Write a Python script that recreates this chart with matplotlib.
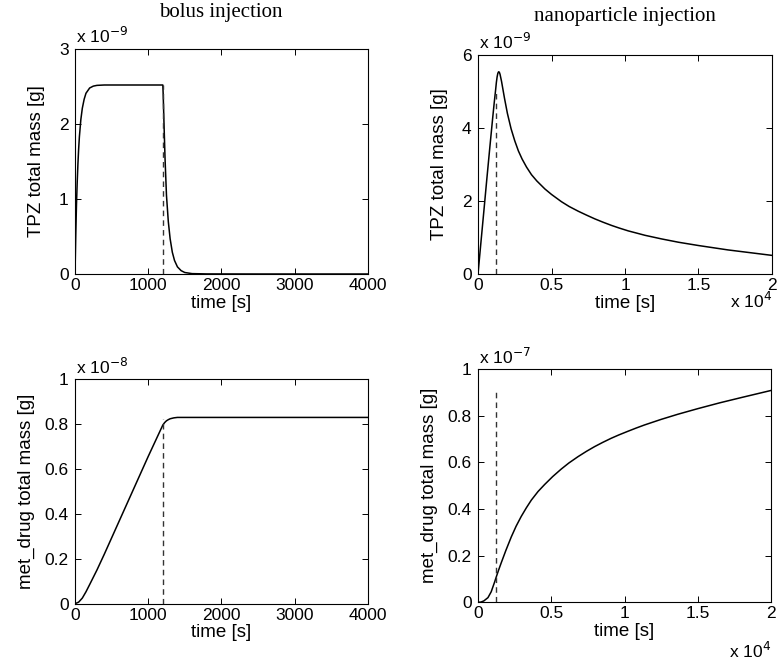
import matplotlib
matplotlib.use("Agg")
import matplotlib.pyplot as plt

# ---- data ----
# bolus injection, TPZ total mass (x 1e-9 g)
bolus_tpz_t = [0, 10, 20, 30, 40, 50, 60, 80, 100, 125, 150, 200, 250, 300, 400, 500, 800, 1100, 1200,
               1205, 1215, 1230, 1250, 1275, 1300, 1330, 1360, 1400, 1450, 1500, 1600, 1800, 2500, 4000]
bolus_tpz_v = [0, 0.50, 0.92, 1.22, 1.47, 1.67, 1.83, 2.06, 2.21, 2.33, 2.41, 2.48, 2.505, 2.515, 2.52, 2.52,
               2.52, 2.52, 2.52, 2.40, 2.05, 1.55, 1.05, 0.70, 0.47, 0.29, 0.18, 0.095, 0.045, 0.02, 0.005, 0.001, 0, 0]
bolus_end = 1200
bolus_tpz_dash_top = 2.52

# nanoparticle injection, TPZ total mass (x 1e-9 g)
nano_tpz_t = [0, 200, 400, 600, 800, 1000, 1100, 1200, 1250, 1300, 1350, 1400, 1450, 1500, 1600, 1700,
              1800, 2000, 2250, 2500, 2750, 3000, 3300, 3640, 4000, 4550, 5000, 5680, 6200, 6820, 7400,
              7950, 8500, 9090, 9600, 10230, 10800, 11360, 12500, 13640, 15000, 16000, 17000, 18000,
              19000, 20000]
nano_tpz_v = [0, 0.87, 1.73, 2.6, 3.45, 4.28, 4.68, 5.05, 5.25, 5.4, 5.5, 5.54, 5.53, 5.47, 5.28, 5.05,
              4.82, 4.4, 3.98, 3.65, 3.37, 3.15, 2.93, 2.72, 2.55, 2.33, 2.18, 1.98, 1.85, 1.72, 1.61,
              1.51, 1.42, 1.33, 1.26, 1.18, 1.12, 1.06, 0.96, 0.87, 0.78, 0.72, 0.66, 0.61, 0.56, 0.51]
nano_end = 1200
nano_tpz_dash_top = 5.05

# bolus injection, met_drug total mass (x 1e-8 g)
bolus_met_t = [0, 50, 100, 150, 200, 300, 400, 600, 800, 1000, 1100, 1200, 1225, 1250, 1275, 1300, 1350,
               1400, 1500, 2000, 4000]
bolus_met_v = [0, 0.007, 0.025, 0.053, 0.085, 0.15, 0.22, 0.365, 0.51, 0.655, 0.725, 0.795, 0.806, 0.814,
               0.819, 0.823, 0.827, 0.829, 0.829, 0.829, 0.829]
bolus_met_dash_top = 0.82

# nanoparticle injection, met_drug total mass (x 1e-7 g)
nano_met_t = [0, 200, 400, 680, 900, 1140, 1200, 1400, 1590, 1900, 2270, 2600, 2950, 3300, 3640, 4100,
              4550, 5100, 5680, 6200, 6820, 7400, 7950, 8500, 9090, 9600, 10230, 10800, 11360, 12500,
              13640, 15000, 16500, 18000, 20000]
nano_met_v = [0, 0.001, 0.006, 0.02, 0.045, 0.088, 0.1, 0.137, 0.17, 0.222, 0.28, 0.326, 0.368, 0.405,
              0.438, 0.475, 0.505, 0.539, 0.571, 0.597, 0.624, 0.647, 0.667, 0.685, 0.703, 0.717, 0.733,
              0.747, 0.76, 0.784, 0.806, 0.83, 0.855, 0.878, 0.908]
nano_met_dash_top = 0.91

W, H = 782, 669
fig = plt.figure(figsize=(W / 100, H / 100), dpi=100)
plt.rcParams['font.family'] = ['Liberation Sans', 'DejaVu Sans']

def box(l, r, t, b):
    return [l / W, (H - b) / H, (r - l) / W, (b - t) / H]

axes_px = {
    'tl': (75, 367.7, 49, 274),
    'tr': (478, 772, 55, 274),
    'bl': (75, 367.7, 379, 603.7),
    'br': (478, 771, 369, 602.3),
}

def style(ax):
    ax.tick_params(direction='in', top=True, right=True, length=4, width=0.7,
                   labelsize=12.5)
    ax.tick_params(axis='x', pad=3)
    ax.tick_params(axis='y', pad=4.5)
    for s in ax.spines.values():
        s.set_linewidth(0.8)

LW = 1.1
dash_kw = dict(color='#333333', lw=1.0, dashes=(4, 3))
LABEL_FS = 13.5

# top-left
ax = fig.add_axes(box(*axes_px['tl']))
ax.plot(bolus_tpz_t, bolus_tpz_v, color='k', lw=LW)
ax.plot([bolus_end, bolus_end], [0, bolus_tpz_dash_top], **dash_kw)
ax.set_xlim(0, 4000); ax.set_ylim(0, 3)
ax.set_xticks([0, 1000, 2000, 3000, 4000]); ax.set_yticks([0, 1, 2, 3])
ax.set_xticklabels(['0', '1000', '2000', '3000', '4000'])
ax.set_yticklabels(['0', '1', '2', '3'])
style(ax)
ax.set_xlabel('time [s]', fontsize=LABEL_FS, labelpad=1)
ax.set_ylabel('TPZ total mass [g]', fontsize=LABEL_FS, labelpad=10)
ax.text(0.005, 1.015, r'x 10$^{-9}$', transform=ax.transAxes, fontsize=12.5, ha='left', va='bottom')

# top-right
ax = fig.add_axes(box(*axes_px['tr']))
ax.plot(nano_tpz_t, nano_tpz_v, color='k', lw=LW)
ax.plot([nano_end, nano_end], [0, nano_tpz_dash_top], **dash_kw)
ax.set_xlim(0, 20000); ax.set_ylim(0, 6)
ax.set_xticks([0, 5000, 10000, 15000, 20000]); ax.set_yticks([0, 2, 4, 6])
ax.set_xticklabels(['0', '0.5', '1', '1.5', '2'])
ax.set_yticklabels(['0', '2', '4', '6'])
style(ax)
ax.set_xlabel('time [s]', fontsize=LABEL_FS, labelpad=1)
ax.set_ylabel('TPZ total mass [g]', fontsize=LABEL_FS, labelpad=10)
ax.text(0.005, 1.015, r'x 10$^{-9}$', transform=ax.transAxes, fontsize=12.5, ha='left', va='bottom')
ax.text(1.0, -0.075, r'x 10$^{4}$', transform=ax.transAxes, fontsize=12.5, ha='right', va='top')

# bottom-left
ax = fig.add_axes(box(*axes_px['bl']))
ax.plot(bolus_met_t, bolus_met_v, color='k', lw=LW)
ax.plot([bolus_end, bolus_end], [0, bolus_met_dash_top], **dash_kw)
ax.set_xlim(0, 4000); ax.set_ylim(0, 1)
ax.set_xticks([0, 1000, 2000, 3000, 4000]); ax.set_yticks([0, 0.2, 0.4, 0.6, 0.8, 1])
ax.set_xticklabels(['0', '1000', '2000', '3000', '4000'])
ax.set_yticklabels(['0', '0.2', '0.4', '0.6', '0.8', '1'])
style(ax)
ax.set_xlabel('time [s]', fontsize=LABEL_FS, labelpad=1)
ax.set_ylabel('met_drug total mass [g]', fontsize=LABEL_FS, labelpad=7)
ax.text(0.005, 1.01, r'x 10$^{-8}$', transform=ax.transAxes, fontsize=12.5, ha='left', va='bottom')

# bottom-right
ax = fig.add_axes(box(*axes_px['br']))
ax.plot(nano_met_t, nano_met_v, color='k', lw=LW)
ax.plot([nano_end, nano_end], [0, nano_met_dash_top], **dash_kw)
ax.set_xlim(0, 20000); ax.set_ylim(0, 1)
ax.set_xticks([0, 5000, 10000, 15000, 20000]); ax.set_yticks([0, 0.2, 0.4, 0.6, 0.8, 1])
ax.set_xticklabels(['0', '0.5', '1', '1.5', '2'])
ax.set_yticklabels(['0', '0.2', '0.4', '0.6', '0.8', '1'])
style(ax)
ax.set_xlabel('time [s]', fontsize=LABEL_FS, labelpad=1)
ax.set_ylabel('met_drug total mass [g]', fontsize=LABEL_FS, labelpad=7)
ax.text(0.005, 1.01, r'x 10$^{-7}$', transform=ax.transAxes, fontsize=12.5, ha='left', va='bottom')
ax.text(1.0, -0.165, r'x 10$^{4}$', transform=ax.transAxes, fontsize=12.5, ha='right', va='top')

# column titles
fig.text(221 / W, 1 - 13 / H, 'bolus injection', family=['Liberation Serif'], fontsize=15,
         ha='center', va='center')
fig.text(625 / W, 1 - 17 / H, 'nanoparticle injection', family=['Liberation Serif'], fontsize=15,
         ha='center', va='center')

fig.savefig('out.png', dpi=100)
